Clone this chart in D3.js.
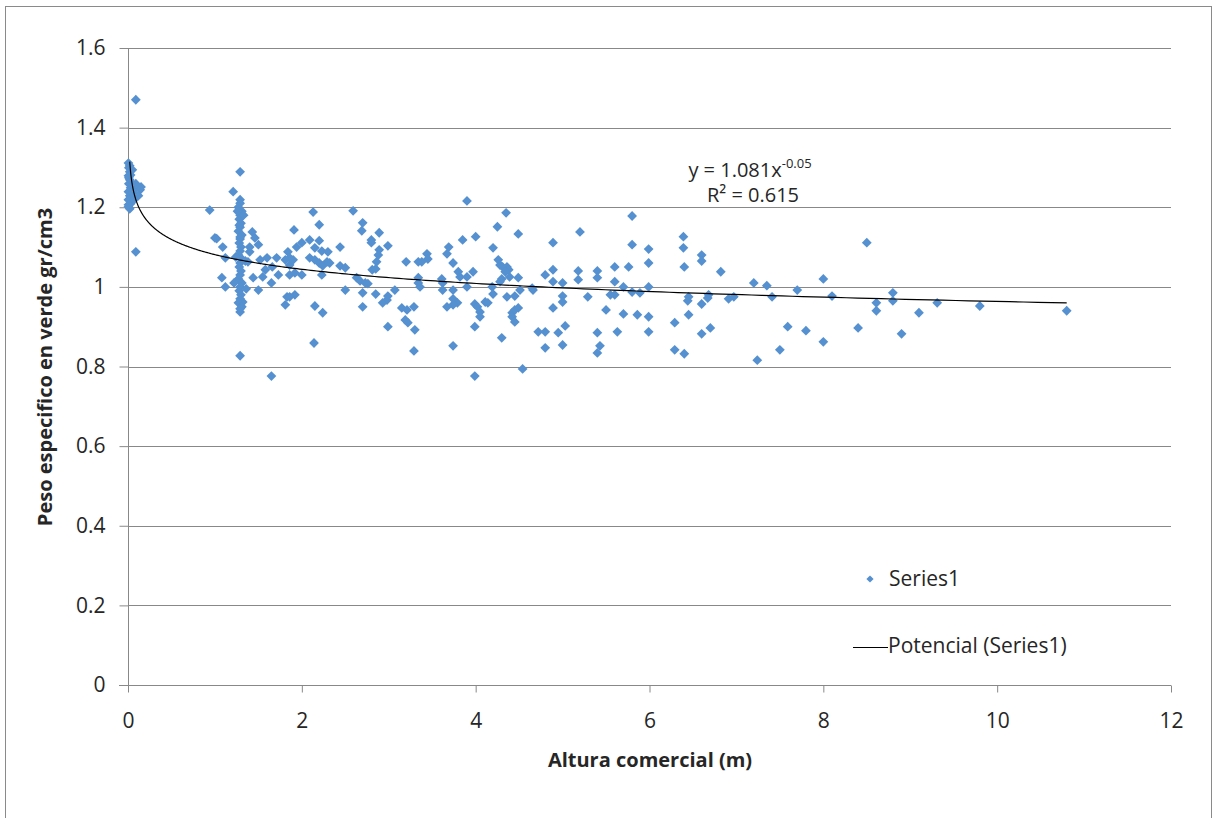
<!DOCTYPE html>
<html><head><meta charset="utf-8">
<script src="https://cdn.jsdelivr.net/npm/d3@7"></script>
<style>
html,body{margin:0;padding:0;background:#fff;}
svg{display:block;font-family:"Open Sans",sans-serif;}
</style></head>
<body>
<svg id="chart" width="1216" height="818"></svg>
<script>
// ---- data ----
const xTicks = [0, 2, 4, 6, 8, 10, 12];
const yTicks = [0, 0.2, 0.4, 0.6, 0.8, 1, 1.2, 1.4, 1.6];
const xTickLabels = ["0", "2", "4", "6", "8", "10", "12"];
const yTickLabels = ["0", "0.2", "0.4", "0.6", "0.8", "1", "1.2", "1.4", "1.6"];
const seriesName = "Series1";
const trendName = "Potencial (Series1)";
const trendCoef = 1.081, trendExp = -0.05, trendR2 = 0.615;
const trendXMin = 0.02, trendXMax = 10.8;

const alturaX = [
 0.09,0.09,0.005,0.01,0.02,0.005,0.02,0.01,0.03,0.005,0.02,0.01,0.03,0.005,0.02,0.05,0.06,0.07,0.06,0.01,0.03,0.005,0.005,0.02,0.05,0.15,0.14,0.12,0.07,0.09,
 0.94,1.00,1.02,1.09,1.12,1.08,1.12,1.21,1.29,1.29,1.32,1.29,1.29,1.65,1.43,1.46,1.40,1.50,1.40,1.38,1.52,1.44,1.50,1.60,1.58,1.55,1.66,1.71,1.73,1.65,1.81,1.84,1.91,1.86,1.86,1.81,1.83,1.92,1.94,
 1.29,1.27,1.31,1.29,1.28,1.30,1.29,1.27,1.31,1.29,1.28,1.30,1.29,1.27,1.31,1.29,1.28,1.30,1.29,1.27,1.31,1.29,1.28,1.30,1.29,1.27,1.31,1.29,1.30,1.28,1.29,1.26,1.33,1.24,1.35,1.22,1.36,
 2.13,2.59,2.20,2.70,2.69,2.89,2.80,2.80,2.99,2.09,2.20,2.00,2.15,2.23,2.30,2.44,2.09,2.15,2.20,2.24,2.29,2.32,2.44,2.50,1.86,1.90,2.89,2.88,2.86,2.81,2.85,3.20,3.34,2.00,2.23,1.92,2.63,2.67,2.73,2.76,2.50,2.70,2.85,3.07,1.86,2.99,2.98,2.93,2.15,2.24,2.70,3.15,3.21,3.29,3.19,3.22,3.30,2.99,3.29,2.14,3.34,
 3.90,4.35,4.25,4.49,3.85,4.00,3.69,3.67,4.20,3.44,3.45,3.38,3.74,4.26,4.28,4.31,4.36,4.38,4.34,3.80,3.97,3.82,3.90,4.39,4.49,4.30,4.28,3.34,3.36,3.61,3.62,3.62,3.90,3.74,4.19,4.20,4.36,4.45,4.51,4.66,3.74,3.79,3.74,3.67,4.11,4.14,3.99,4.02,4.05,4.05,4.42,4.45,4.49,4.42,4.45,3.99,3.74,4.30,4.72,4.54,3.99,
 5.80,5.20,4.89,5.80,5.99,5.99,4.89,4.80,5.18,5.18,5.40,5.40,5.60,5.60,5.76,4.89,5.00,4.65,5.70,5.80,5.89,5.99,5.00,5.00,5.29,5.55,5.60,4.89,5.50,5.70,5.86,5.99,4.80,4.95,5.03,5.40,5.63,5.99,4.80,5.00,5.43,5.40,
 6.39,6.39,6.40,6.60,6.60,6.82,7.20,7.35,7.41,7.70,6.45,6.44,6.68,6.67,6.91,6.97,6.60,6.45,6.29,6.60,6.70,7.59,7.80,6.29,6.40,7.24,7.50,
 8.50,8.00,8.10,8.80,8.80,8.61,8.61,9.31,9.80,9.10,10.80,8.40,8.00,8.90
];
const pesoY = [
 1.470,1.088,1.311,1.299,1.289,1.279,1.269,1.259,1.249,1.239,1.229,1.219,1.209,1.201,1.196,1.224,1.236,1.244,1.256,1.274,1.281,1.206,1.219,1.304,1.294,1.251,1.244,1.229,1.219,1.259,
 1.193,1.123,1.121,1.100,1.073,1.023,1.000,1.239,1.219,1.289,0.962,0.937,0.827,0.776,1.138,1.123,1.100,1.106,1.088,1.063,1.068,1.023,0.992,1.073,1.043,1.025,1.050,1.073,1.030,1.010,1.068,1.088,1.143,1.055,1.030,0.955,0.975,0.980,1.100,
 1.210,1.200,1.190,1.180,1.170,1.160,1.150,1.140,1.130,1.120,1.110,1.100,1.090,1.080,1.070,1.060,1.050,1.040,1.030,1.020,1.010,1.000,0.990,0.980,0.970,0.960,0.950,0.945,1.185,1.155,1.125,1.190,1.180,1.075,1.065,1.010,0.995,
 1.188,1.191,1.156,1.161,1.141,1.136,1.118,1.111,1.103,1.118,1.116,1.111,1.098,1.090,1.088,1.100,1.073,1.068,1.060,1.053,1.063,1.060,1.053,1.048,1.073,1.068,1.093,1.080,1.063,1.043,1.045,1.063,1.063,1.030,1.030,1.035,1.023,1.015,1.010,1.008,0.992,0.985,0.982,0.992,0.975,0.977,0.967,0.960,0.952,0.935,0.950,0.947,0.942,0.950,0.917,0.910,0.892,0.900,0.839,0.859,1.010,
 1.216,1.186,1.151,1.133,1.118,1.126,1.100,1.083,1.098,1.083,1.070,1.063,1.060,1.068,1.055,1.050,1.050,1.043,1.038,1.038,1.038,1.025,1.025,1.025,1.023,1.020,1.013,1.023,1.000,1.020,1.010,0.992,1.000,0.992,1.000,0.982,0.975,0.977,0.992,0.992,0.970,0.960,0.955,0.950,0.962,0.960,0.957,0.950,0.937,0.925,0.935,0.942,0.947,0.925,0.912,0.900,0.852,0.872,0.887,0.794,0.776,
 1.178,1.138,1.111,1.106,1.095,1.060,1.043,1.030,1.040,1.018,1.040,1.023,1.050,1.013,1.050,1.013,1.010,0.997,1.000,0.987,0.985,1.000,0.977,0.962,0.975,0.980,0.980,0.947,0.942,0.932,0.930,0.925,0.887,0.885,0.902,0.885,0.887,0.887,0.847,0.854,0.852,0.834,
 1.126,1.098,1.050,1.080,1.065,1.038,1.010,1.003,0.975,0.992,0.975,0.965,0.980,0.972,0.970,0.975,0.957,0.930,0.910,0.882,0.897,0.900,0.890,0.842,0.832,0.816,0.842,
 1.111,1.020,0.977,0.985,0.965,0.960,0.940,0.960,0.952,0.935,0.940,0.897,0.862,0.882
];

(function () {
// ---- layout ----
const svg = d3.select("#chart");
const plotL = 128, plotR = 1171, plotT = 48, plotB = 685;
const x = d3.scaleLinear().domain([0, 12]).range([plotL, plotR]);
const y = d3.scaleLinear().domain([0, 1.6]).range([plotB, plotT]);
const gridColor = "#888888";
const textColor = "#262626";
const markerColor = "#5590d0";
const fontFam = "'Open Sans', sans-serif";

// outer border
svg.append("rect").attr("x", 5.5).attr("y", 6.5).attr("width", 1206).attr("height", 820)
  .attr("fill", "none").attr("stroke", "#8a8a8a").attr("stroke-width", 1);

// gridlines
svg.append("g").selectAll("line").data(yTicks.filter(d => d > 0)).join("line")
  .attr("x1", plotL).attr("x2", plotR)
  .attr("y1", d => Math.round(y(d)) + 0.5).attr("y2", d => Math.round(y(d)) + 0.5)
  .attr("stroke", gridColor).attr("stroke-width", 1);

// axes
const yAxis = d3.axisLeft(y).tickValues(yTicks).tickFormat((d, i) => yTickLabels[i]).tickSize(9).tickPadding(14);
const gy = svg.append("g").attr("transform", `translate(${plotL + 0.5},0)`).call(yAxis);
gy.select(".domain").attr("stroke", gridColor).attr("d", `M0,${plotT}V${plotB}`);
gy.selectAll(".tick line").attr("stroke", gridColor);
gy.selectAll(".tick text").attr("font-size", 21).attr("fill", textColor).attr("font-family", fontFam);

const xAxis = d3.axisBottom(x).tickValues(xTicks).tickFormat((d, i) => xTickLabels[i]).tickSize(7).tickPadding(21);
const gx = svg.append("g").attr("transform", `translate(0,${plotB + 0.5})`).call(xAxis);
gx.select(".domain").attr("stroke", gridColor).attr("d", `M${plotL - 9},0H${plotR}`);
gx.selectAll(".tick line").attr("stroke", gridColor);
gx.selectAll(".tick text").attr("font-size", 21).attr("fill", textColor).attr("font-family", fontFam);

// points
const n = Math.min(alturaX.length, pesoY.length);
const points = d3.range(n).map(i => [alturaX[i], pesoY[i]]);
const diamond = d3.symbol().type(d3.symbolSquare).size(48);
svg.append("g").selectAll("path").data(points).join("path")
  .attr("d", diamond)
  .attr("transform", d => `translate(${x(d[0])},${y(d[1])}) rotate(45)`)
  .attr("fill", markerColor);

// power trendline from the fitted coefficients shown on the chart
const trendXs = d3.range(0, 401).map(i => trendXMin * Math.pow(trendXMax / trendXMin, i / 400));
const line = d3.line().x(d => x(d)).y(d => y(trendCoef * Math.pow(d, trendExp)));
svg.append("path").datum(trendXs).attr("d", line)
  .attr("fill", "none").attr("stroke", "#000").attr("stroke-width", 1.2);

// equation
const eq = svg.append("text").attr("x", 750).attr("y", 177).attr("text-anchor", "middle")
  .attr("font-size", 20).attr("fill", textColor);
eq.append("tspan").text("y = " + trendCoef + "x");
eq.append("tspan").attr("dy", -9).attr("font-size", 13).text(String(trendExp));
svg.append("text").attr("x", 753).attr("y", 202).attr("text-anchor", "middle")
  .attr("font-size", 20).attr("fill", textColor).text("R² = " + trendR2);

// legend
svg.append("path").attr("d", d3.symbol().type(d3.symbolSquare).size(26))
  .attr("transform", "translate(870,579) rotate(45)").attr("fill", markerColor);
svg.append("text").attr("x", 889).attr("y", 586).attr("font-size", 21).attr("fill", textColor).text(seriesName);
svg.append("line").attr("x1", 853).attr("x2", 888).attr("y1", 647.5).attr("y2", 647.5)
  .attr("stroke", "#000").attr("stroke-width", 1.2);
svg.append("text").attr("x", 888).attr("y", 653).attr("font-size", 21).attr("fill", textColor).text(trendName);

// axis titles
svg.append("text").attr("x", 650).attr("y", 767).attr("text-anchor", "middle")
  .attr("font-size", 20).attr("font-weight", "bold").attr("fill", textColor).text("Altura comercial (m)");
svg.append("text").attr("transform", "translate(52,367) rotate(-90)").attr("text-anchor", "middle")
  .attr("font-size", 20).attr("font-weight", "bold").attr("fill", textColor).text("Peso especifico en verde gr/cm3");
})();
</script>
</body></html>
